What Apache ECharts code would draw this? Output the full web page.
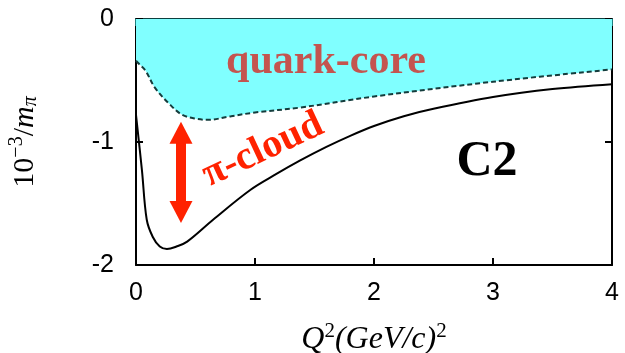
<!DOCTYPE html>
<html>
<head>
<meta charset="utf-8">
<script src="https://cdn.jsdelivr.net/npm/echarts@6/dist/echarts.min.js"></script>
<style>
  html, body { margin: 0; padding: 0; background: #fff; }
  #chart { width: 625px; height: 353px; }
</style>
</head>
<body>
<div id="chart"></div>
<script>
// Q^2 in (GeV/c)^2 and C2 amplitude in units of 10^-3/m_pi
const quarkCoreQ2 = [0, 0.02, 0.08, 0.16, 0.29, 0.39, 0.5, 0.6, 0.8, 1.0, 1.38, 2.0, 3.0, 4.0];
const quarkCoreC2 = [-0.34, -0.36, -0.42, -0.56, -0.70, -0.78, -0.81, -0.82, -0.79, -0.76, -0.72, -0.63, -0.51, -0.41];

const totalQ2 = [0, 0.05, 0.09, 0.14, 0.2, 0.26, 0.34, 0.43, 0.65, 0.96, 1.18, 1.38, 1.6, 1.8, 2.0, 2.25, 2.5, 3.0, 3.5, 4.0];
const totalC2 = [-0.78, -1.23, -1.63, -1.77, -1.85, -1.87, -1.85, -1.81, -1.63, -1.39, -1.26, -1.15, -1.04, -0.95, -0.87, -0.79, -0.73, -0.635, -0.57, -0.53];

// pion-cloud arrow spans between the two curves at this Q^2
const arrowQ2 = 0.378;
const arrowEnds = [-0.925, -1.57];

const xTicks = [0, 1, 2, 3, 4];
const yTicks = [-2, -1, 0];

const pairs = (xs, ys) => xs.map((x, i) => [x, ys[i]]);

const chart = echarts.init(document.getElementById('chart'));

const frame = { show: true, onZero: false, lineStyle: { color: '#000', width: 2 } };
const inTicks = { show: true, inside: true, length: 7, lineStyle: { color: '#000', width: 2 } };
const tickFont = { color: '#000', fontFamily: 'Liberation Sans', fontSize: 25 };

chart.setOption({
  animation: false,
  backgroundColor: '#fff',
  grid: { left: 136, right: 13, top: 19, bottom: 88, containLabel: false, outerBoundsMode: 'none' },
  xAxis: [
    {
      type: 'value', min: xTicks[0], max: xTicks[xTicks.length - 1], interval: 1,
      position: 'bottom',
      axisLine: frame, axisTick: inTicks, splitLine: { show: false },
      axisLabel: Object.assign({ margin: 16 }, tickFont),
      name: '{i|Q}{s|2}{i|(GeV/c)}{s|2}',
      nameLocation: 'middle', nameGap: 56,
      nameTextStyle: {
        rich: {
          i: { fontFamily: 'Liberation Serif', fontStyle: 'italic', fontSize: 32, color: '#000' },
          s: { fontFamily: 'Liberation Serif', fontSize: 21, color: '#000', padding: [0, 0, 16, 0] }
        }
      }
    },
    {
      type: 'value', min: xTicks[0], max: xTicks[xTicks.length - 1], interval: 1,
      position: 'top',
      axisLine: { show: true, onZero: false, lineStyle: { color: '#0d3f3f', width: 2 } },
      axisTick: { show: true, inside: true, length: 7, lineStyle: { color: '#1f7f7f', width: 2 } },
      axisLabel: { show: false }, splitLine: { show: false }
    }
  ],
  yAxis: [
    {
      type: 'value', min: yTicks[0], max: yTicks[yTicks.length - 1], interval: 1,
      position: 'left',
      axisLine: frame, axisTick: inTicks, splitLine: { show: false },
      axisLabel: Object.assign({ margin: 22 }, tickFont),
      name: '{n|10}{s|−3}{n|/}{i|m}{p|π}',
      nameLocation: 'middle', nameGap: 93, nameRotate: 90,
      nameTextStyle: {
        rich: {
          n: { fontFamily: 'Liberation Serif', fontSize: 30, color: '#000' },
          i: { fontFamily: 'Liberation Serif', fontStyle: 'italic', fontSize: 30, color: '#000' },
          s: { fontFamily: 'Liberation Serif', fontSize: 20, color: '#000', padding: [0, 0, 16, 0] },
          p: { fontFamily: 'Liberation Serif', fontStyle: 'italic', fontSize: 20, color: '#000', padding: [12, 0, 0, 0] }
        }
      }
    },
    {
      type: 'value', min: yTicks[0], max: yTicks[yTicks.length - 1], interval: 1,
      position: 'right',
      axisLine: frame, axisTick: inTicks,
      axisLabel: { show: false }, splitLine: { show: false }
    }
  ],
  series: [
    {
      name: 'quark-core',
      type: 'line',
      smooth: 0.35,
      showSymbol: false,
      data: pairs(quarkCoreQ2, quarkCoreC2),
      lineStyle: { color: '#143c3c', width: 2, type: [5, 3] },
      areaStyle: { color: '#80ffff', opacity: 1, origin: 'end' },
      z: 3
    },
    {
      name: 'total',
      type: 'line',
      smooth: 0.35,
      showSymbol: false,
      data: pairs(totalQ2, totalC2),
      lineStyle: { color: '#000', width: 2 },
      z: 4,
      markLine: {
        silent: true,
        symbol: ['triangle', 'triangle'],
        symbolSize: [23, 22],
        label: { show: false },
        lineStyle: { color: '#ff2200', width: 10, type: 'solid' },
        data: [[{ coord: [arrowQ2, arrowEnds[0]] }, { coord: [arrowQ2, arrowEnds[1]] }]]
      }
    }
  ],
  graphic: [
    {
      type: 'text', x: 326, y: 62, z: 10,
      style: { text: 'quark-core', fontFamily: 'Liberation Serif', fontWeight: 'bold', fontSize: 42, fill: '#c4544f', align: 'center', verticalAlign: 'middle' }
    },
    {
      type: 'text', x: 263, y: 150, rotation: 25 * Math.PI / 180, z: 10,
      style: { text: 'π-cloud', fontFamily: 'Liberation Serif', fontWeight: 'bold', fontSize: 40, fill: '#ff2200', align: 'center', verticalAlign: 'middle' }
    },
    {
      type: 'text', x: 487, y: 162, z: 10,
      style: { text: 'C2', fontFamily: 'Liberation Serif', fontWeight: 'bold', fontSize: 50, fill: '#000', align: 'center', verticalAlign: 'middle' }
    }
  ]
});
</script>
</body>
</html>
